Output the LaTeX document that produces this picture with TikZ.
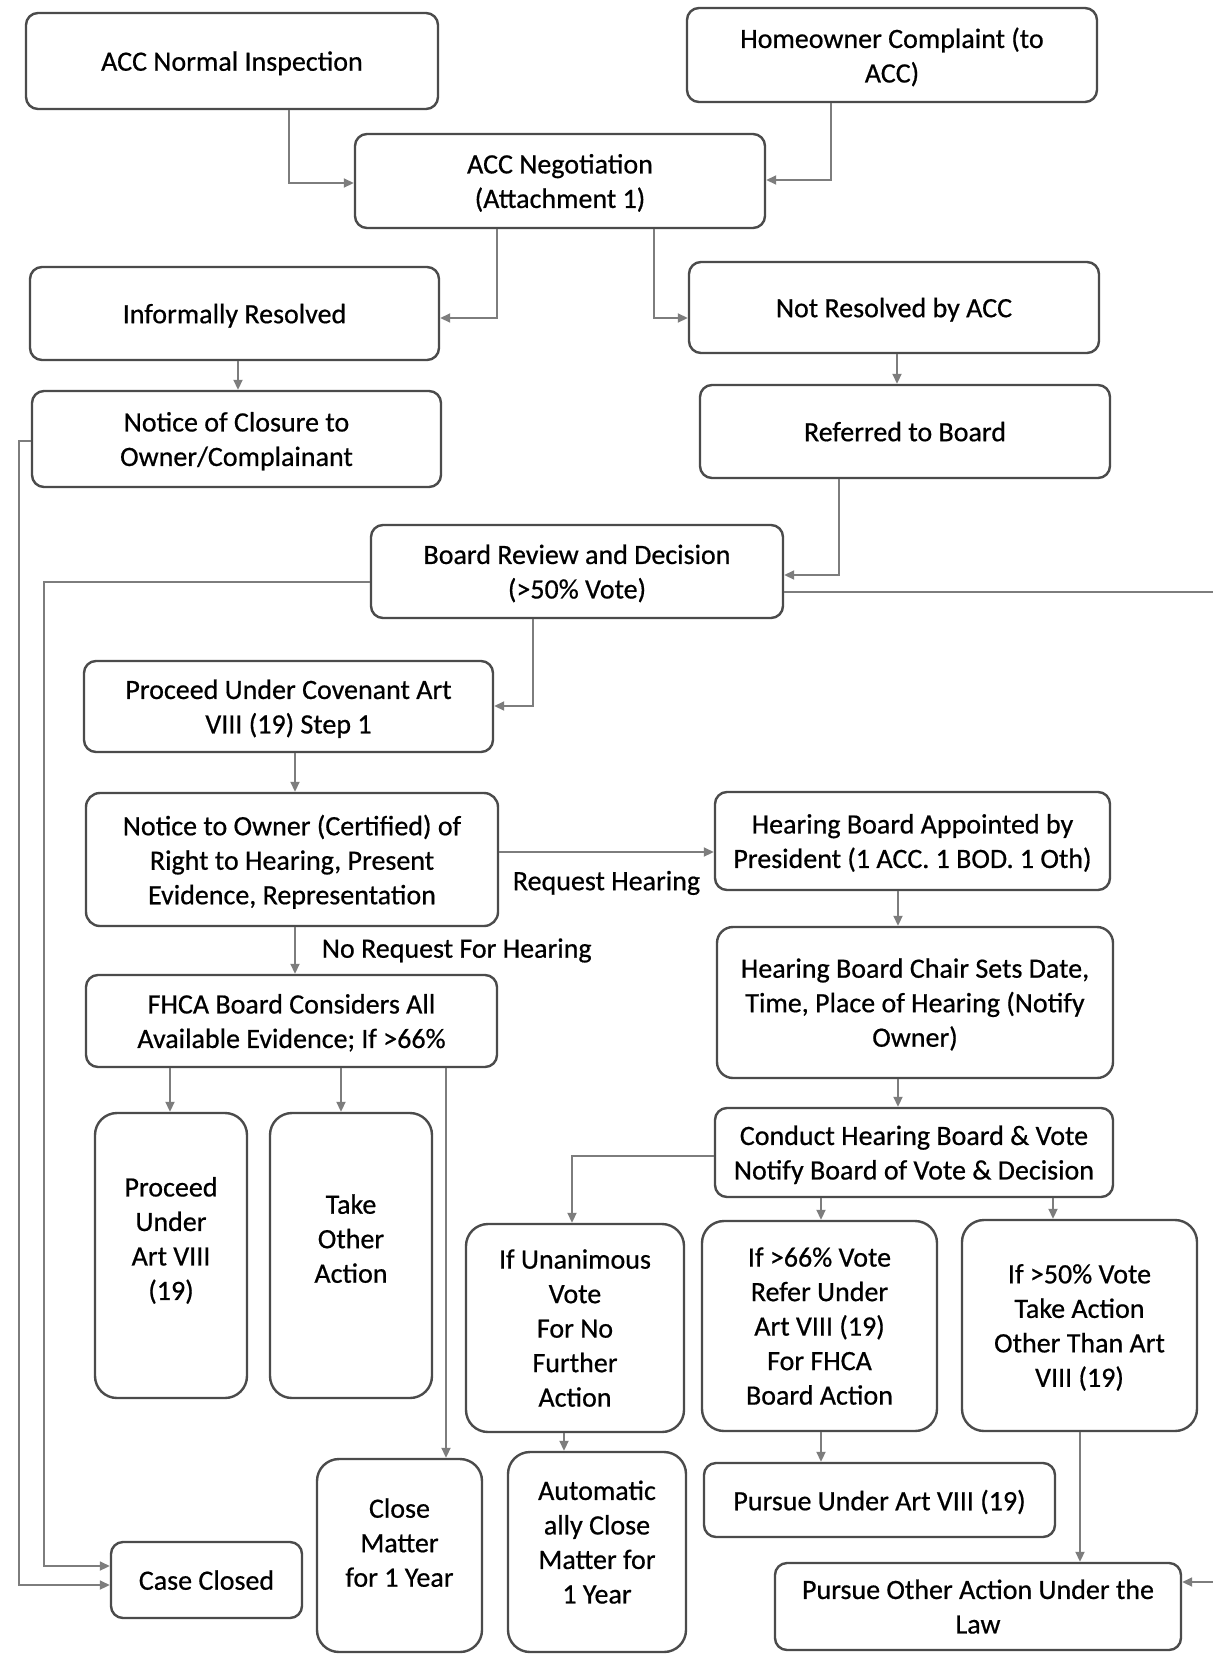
\documentclass[tikz,border=0pt]{standalone}
\usepackage{fontspec}
\setmainfont{Carlito}[FakeBold=0.6]
\usetikzlibrary{arrows.meta, positioning, calc}
\definecolor{BoxGray}{RGB}{75,75,75}
\definecolor{LineGray}{RGB}{125,125,125}

\begin{document}
\begin{tikzpicture}[x=0.5pt,y=-0.5pt,
	box/.style={draw=BoxGray,line width=1.2pt,align=center,inner sep=2pt,
		font=\fontsize{14}{17.25}\selectfont},
	arr/.style={draw=LineGray,line width=0.9pt,-{Triangle[length=5pt,width=4.5pt]}},
	lbl/.style={font=\fontsize{14}{17.25}\selectfont,inner sep=2pt}]
\useasboundingbox (0,0) rectangle (1212,1654);
\fill[white] (0,0) rectangle (1212,1654);
% boxes: name/x/y/width/height/corner/text depth/text
\foreach \n/\x/\y/\w/\h/\r/\d/\t in {
	ani/232/61/206/48/6/0/{ACC Normal Inspection},
	hoc/892/55/205/47/6/0/{Homeowner Complaint (to\\ACC)},
	neg/560/181/205/47/6/0/{ACC Negotiation\\(Attachment 1)},
	inf/234.5/313.5/204.5/46.5/6/0/{Informally Resolved},
	nra/894/307.5/205/45.5/6/0/{Not Resolved by ACC},
	noc/236.5/439/204.5/48/6/0/{Notice of Closure to\\Owner/Complainant},
	rtb/905/431.5/205/46.5/6/0/{Referred to Board},
	brd/577/571.5/206/46.5/6/0/{Board Review and Decision\\(>50\% Vote)},
	pca/288.5/706.5/204.5/45.5/6/0/{Proceed Under Covenant Art\\VIII (19) Step 1},
	nto/292/859.5/206/66.5/7/0/{Notice to Owner (Certified) of\\Right to Hearing, Present\\Evidence, Representation},
	hba/912.5/841/197.5/49/6/0/{Hearing Board Appointed by\\President (1 ACC. 1 BOD. 1 Oth)},
	hbc/915/1002.5/198/75.5/8/0/{Hearing Board Chair Sets Date,\\Time, Place of Hearing (Notify\\Owner)},
	fhc/291.5/1021/205.5/46/6/0/{FHCA Board Considers All\\Available Evidence; If >66\%},
	chb/914/1152.5/199/44.5/6/0/{Conduct Hearing Board \& Vote\\Notify Board of Vote \& Decision},
	pua/171/1255.5/76/142.5/11/17/{Proceed\\Under\\Art VIII\\(19)},
	tao/351/1255.5/81/142.5/11/17/{Take\\Other\\Action},
	iun/575/1328/109/104/11/0/{If Unanimous\\Vote\\For No\\Further\\Action},
	i66/819.5/1326/117.5/105/11/0/{If >66\% Vote\\Refer Under\\Art VIII (19)\\For FHCA\\Board Action},
	i50/1079.5/1325.5/117.5/105.5/11/0/{If >50\% Vote\\Take Action\\Other Than Art\\VIII (19)},
	cmy/399.5/1555.5/82.5/96.5/11/13/{Close\\Matter\\for 1 Year},
	aut/597/1552/89/100/11/10/{Automatic\\ally Close\\Matter for\\1 Year},
	pur/879.5/1500/175.5/37/6/0/{Pursue Under Art VIII (19)},
	ccl/206.5/1580/95.5/38/6/0/{Case Closed},
	poa/978/1606.5/203/43.5/6/0/{Pursue Other Action Under the\\Law}}
	\node[box,rounded corners=\r pt,minimum width=\w pt,minimum height=\h pt,
		text depth=\d pt] (\n) at (\x,\y) {\t};
% top part
\draw[arr] (289,0 |- ani.south) |- (neg.west |- 0,183);
\draw[arr] (831,0 |- hoc.south) |- (neg.east |- 0,180);
\draw[arr] (497,0 |- neg.south) |- (inf.east |- 0,318);
\draw[arr] (654,0 |- neg.south) |- (nra.west |- 0,318);
\draw[arr] (238,0 |- inf.south) -- (238,0 |- noc.north);
\draw[arr] (897,0 |- nra.south) -- (897,0 |- rtb.north);
\draw[arr] (839,0 |- rtb.south) |- (brd.east |- 0,575);
\draw[arr] (533,0 |- brd.south) |- (pca.east |- 0,706);
% board review to closures
\draw[arr] (brd.west |- 0,582) -| (44,1566) -- (ccl.west |- 0,1566);
\draw[arr] (noc.west |- 0,441) -| (19,1585) -- (ccl.west |- 0,1585);
\draw[arr] (brd.east |- 0,592) -- (1230,592) |- (poa.east |- 0,1582);
% notice and hearing
\draw[arr] (295,0 |- pca.south) -- (295,0 |- nto.north);
\draw[arr] (nto.east |- 0,852) -- (hba.west |- 0,852)
	node[lbl,midway,below=7pt] (lrq) {Request Hearing};
\draw[arr] (295,0 |- nto.south) -- (295,0 |- fhc.north)
	node[lbl,midway,right=11pt] (lnr) {No Request For Hearing};
\draw[arr] (898,0 |- hba.south) -- (898,0 |- hbc.north);
\draw[arr] (898,0 |- hbc.south) -- (898,0 |- chb.north);
% FHCA board options
\draw[arr] (170,0 |- fhc.south) -- (170,0 |- pua.north);
\draw[arr] (341,0 |- fhc.south) -- (341,0 |- tao.north);
\draw[arr] (446,0 |- fhc.south) -- (446,0 |- cmy.north);
% hearing vote outcomes
\draw[arr] (chb.west |- 0,1156) -| (572,0 |- iun.north);
\draw[arr] (821,0 |- chb.south) -- (821,0 |- i66.north);
\draw[arr] (1053,0 |- chb.south) -- (1053,0 |- i50.north);
\draw[arr] (564,0 |- iun.south) -- (564,0 |- aut.north);
\draw[arr] (821,0 |- i66.south) -- (821,0 |- pur.north);
\draw[arr] (1080,0 |- i50.south) -- (1080,0 |- poa.north);
\end{tikzpicture}
\end{document}
